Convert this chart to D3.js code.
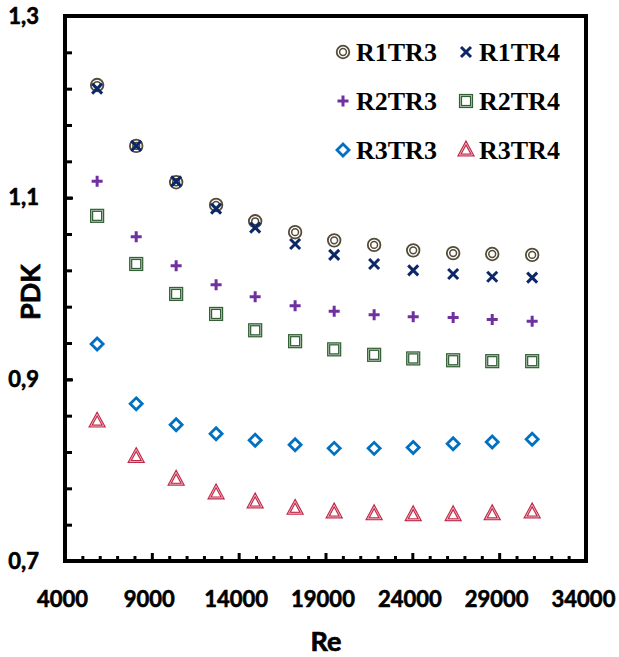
<!DOCTYPE html>
<html lang="en">
<head>
<meta charset="UTF-8">
<title>PDK vs Re</title>
<script src="https://cdn.jsdelivr.net/npm/d3@7"></script>
<style>
  body { margin: 0; background: #fff; }
  svg { display: block; }
</style>
</head>
<body>
<div id="chart"></div>
<script>
// data
const re = [5850, 8100, 10400, 12700, 14950, 17250, 19500, 21800, 24050, 26350, 28600, 30900];
const r1tr3 = [1.224, 1.157, 1.117, 1.092, 1.074, 1.062, 1.053, 1.048, 1.042, 1.039, 1.038, 1.037];
const r1tr4 = [1.220, 1.157, 1.118, 1.088, 1.067, 1.049, 1.037, 1.027, 1.020, 1.016, 1.013, 1.012];
const r2tr3 = [1.118, 1.057, 1.025, 1.004, 0.991, 0.981, 0.975, 0.971, 0.969, 0.968, 0.966, 0.964];
const r2tr4 = [1.080, 1.027, 0.994, 0.972, 0.954, 0.942, 0.933, 0.927, 0.923, 0.921, 0.920, 0.920];
const r3tr3 = [0.939, 0.873, 0.850, 0.840, 0.833, 0.828, 0.824, 0.824, 0.825, 0.829, 0.831, 0.834];
const r3tr4 = [0.854, 0.815, 0.790, 0.775, 0.765, 0.758, 0.754, 0.752, 0.751, 0.751, 0.752, 0.754];
const seriesNames = ["R1TR3", "R1TR4", "R2TR3", "R2TR4", "R3TR3", "R3TR4"];
const xTicks = [4000, 9000, 14000, 19000, 24000, 29000, 34000];
const yTicks = [0.7, 0.9, 1.1, 1.3];

const width = 619, height = 657;
const plotLeft = 65, plotRight = 586, plotTop = 16, plotBottom = 561;

const x = d3.scaleLinear().domain([4000, 34000]).range([plotLeft, plotRight]);
const y = d3.scaleLinear().domain([0.7, 1.3]).range([plotBottom, plotTop]);

const svg = d3.select("#chart").append("svg")
    .attr("width", width)
    .attr("height", height);

const sans = "Lato, 'Open Sans', sans-serif";

// heavier look, closer to the bold Calibri of the original
function heavy(sel, w) {
    sel.attr("font-family", sans)
        .attr("font-weight", "bold")
        .attr("fill", "#000")
        .attr("stroke", "#000")
        .attr("stroke-width", w)
        .attr("stroke-linejoin", "round");
}

// minor ticks
const xMinor = d3.range(5000, 34000, 1000).filter(v => v % 5000 !== 4000);
const yMinor = d3.range(0, 15).map(i => 0.74 + i * 0.04).filter(v => v < 1.29);

svg.append("g")
    .attr("transform", `translate(0,${plotBottom})`)
    .call(d3.axisBottom(x).tickValues(xMinor).tickSize(-5).tickFormat(""))
    .call(g => g.select(".domain").remove())
    .call(g => g.selectAll("line").attr("stroke", "#000").attr("stroke-width", 3));

svg.append("g")
    .attr("transform", `translate(0,${plotBottom})`)
    .call(d3.axisBottom(x).tickValues(xTicks).tickSize(-8).tickPadding(30)
        .tickFormat(d3.format("d")))
    .call(g => g.select(".domain").remove())
    .call(g => g.selectAll("line").attr("stroke", "#000").attr("stroke-width", 3))
    .call(g => g.selectAll("text").attr("font-size", 22).attr("dx", -3).call(heavy, 0.6));

svg.append("g")
    .attr("transform", `translate(${plotLeft},0)`)
    .call(d3.axisLeft(y).tickValues(yMinor).tickSize(-7).tickFormat(""))
    .call(g => g.select(".domain").remove())
    .call(g => g.selectAll("line").attr("stroke", "#000").attr("stroke-width", 3));

svg.append("g")
    .attr("transform", `translate(${plotLeft},0)`)
    .call(d3.axisLeft(y).tickValues(yTicks).tickSize(-8).tickPadding(26)
        .tickFormat(d => d3.format(".1f")(d).replace(".", ",")))
    .call(g => g.select(".domain").remove())
    .call(g => g.selectAll("line").attr("stroke", "#000").attr("stroke-width", 3))
    .call(g => g.selectAll("text").attr("font-size", 22).call(heavy, 0.6));

// frame
svg.append("rect")
    .attr("x", plotLeft).attr("y", plotTop)
    .attr("width", plotRight - plotLeft).attr("height", plotBottom - plotTop)
    .attr("fill", "none")
    .attr("stroke", "#000")
    .attr("stroke-width", 4);

// axis titles
svg.append("text")
    .attr("x", 326).attr("y", 651)
    .attr("text-anchor", "middle")
    .attr("font-size", 27)
    .call(heavy, 0.7)
    .text("Re");

svg.append("text")
    .attr("transform", "translate(40,292) rotate(-90)")
    .attr("text-anchor", "middle")
    .attr("font-size", 27)
    .call(heavy, 0.7)
    .text("PDK");

// marker drawers
const markers = {
    R1TR3: (g) => {
        g.append("circle").attr("r", 6.3).attr("fill", "#fff")
            .attr("stroke", "#544c38").attr("stroke-width", 1.8);
        g.append("circle").attr("r", 3.4).attr("fill", "none")
            .attr("stroke", "#544c38").attr("stroke-width", 1.5);
    },
    R1TR4: (g) => {
        g.append("path").attr("d", "M-5,-5L5,5M-5,5L5,-5")
            .attr("stroke", "#0c2868").attr("stroke-width", 3).attr("fill", "none");
    },
    R2TR3: (g) => {
        g.append("path").attr("d", "M-5.5,0L5.5,0M0,-5.5L0,5.5")
            .attr("stroke", "#7030a0").attr("stroke-width", 3).attr("fill", "none");
    },
    R2TR4: (g) => {
        g.append("rect").attr("x", -5.5).attr("y", -5.5).attr("width", 11).attr("height", 11)
            .attr("fill", "#fff").attr("stroke", "#345f37").attr("stroke-width", 3.2);
        g.append("rect").attr("x", -5.5).attr("y", -5.5).attr("width", 11).attr("height", 11)
            .attr("fill", "none").attr("stroke", "#b5ccb5").attr("stroke-width", 0.8);
    },
    R3TR3: (g) => {
        g.append("path").attr("d", "M0,-6L6,0L0,6L-6,0Z")
            .attr("fill", "#fff").attr("stroke", "#0070c0").attr("stroke-width", 2.8);
    },
    R3TR4: (g) => {
        g.append("path").attr("d", "M0,-7L6.5,5L-6.5,5Z")
            .attr("fill", "#fff").attr("stroke", "#c02848").attr("stroke-width", 3)
            .attr("stroke-linejoin", "miter");
        g.append("path").attr("d", "M0,-7L6.5,5L-6.5,5Z")
            .attr("fill", "none").attr("stroke", "#fbe4e9").attr("stroke-width", 0.7);
    }
};

const seriesValues = [r1tr3, r1tr4, r2tr3, r2tr4, r3tr3, r3tr4];

seriesNames.forEach((name, i) => {
    const pts = re.map((r, j) => ({ r: r, v: seriesValues[i][j] }));
    svg.append("g").attr("class", "series-" + name)
        .selectAll("g")
        .data(pts)
        .join("g")
        .attr("transform", d => `translate(${x(d.r)},${y(d.v)})`)
        .each(function () { markers[name](d3.select(this)); });
});

// legend
const legendPos = [[343, 52], [466, 52], [343, 101], [466, 101], [343, 150], [466, 150]];
const legend = svg.append("g");
seriesNames.forEach((name, i) => {
    const [lx, ly] = legendPos[i];
    const g = legend.append("g").attr("transform", `translate(${lx},${ly})`);
    markers[name](g);
    g.append("text")
        .attr("x", 13).attr("y", 9)
        .attr("font-family", "'Liberation Serif', 'Times New Roman', serif")
        .attr("font-weight", "bold")
        .attr("font-size", 26)
        .text(name);
});
</script>
</body>
</html>
